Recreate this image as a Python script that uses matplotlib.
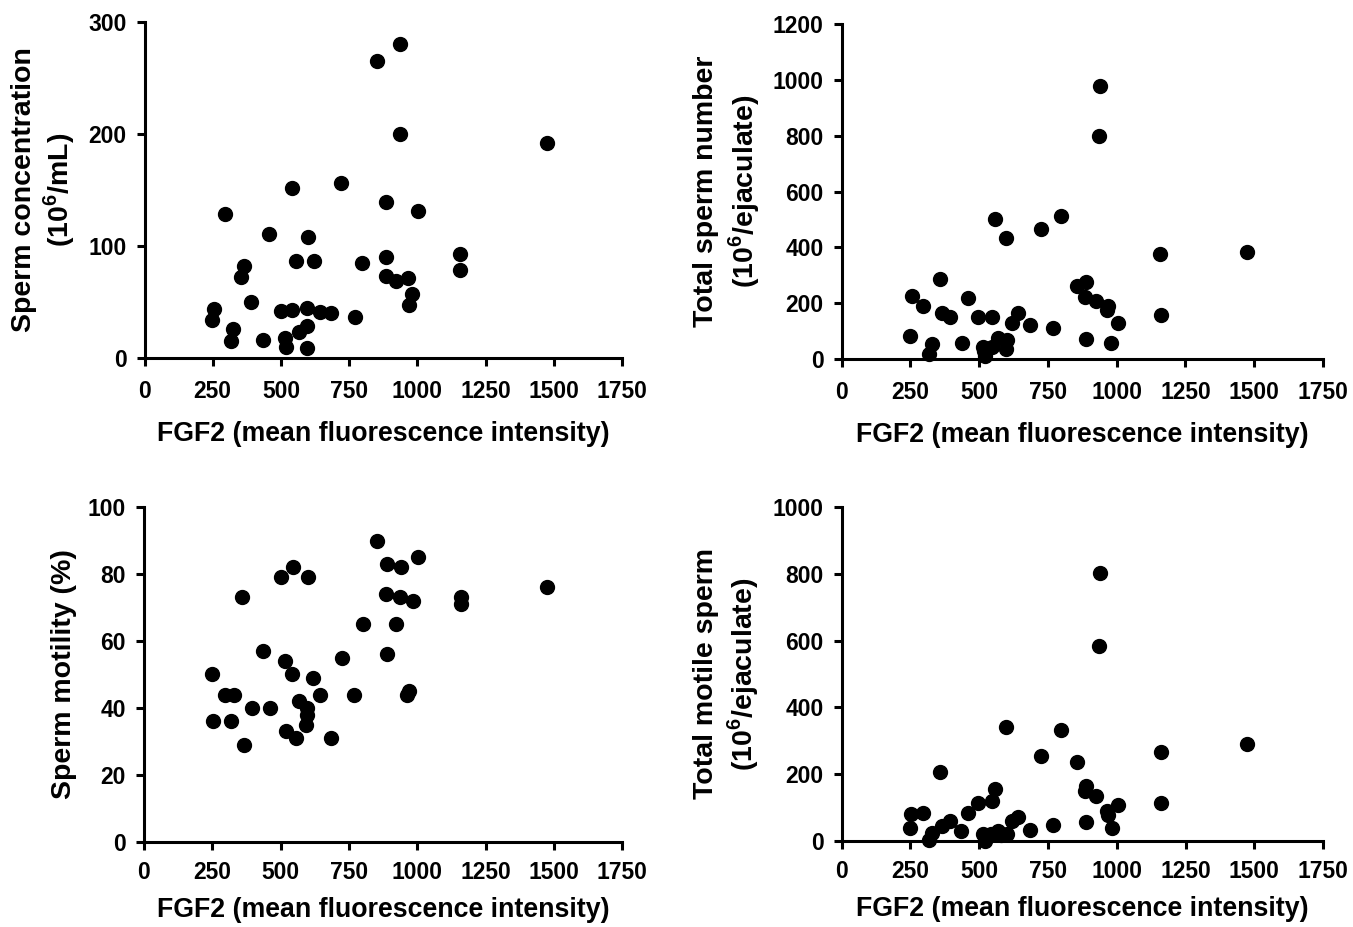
import matplotlib
matplotlib.use('Agg')
import matplotlib.pyplot as plt

plt.rcParams['font.family'] = ['Liberation Sans', 'DejaVu Sans']
plt.rcParams['font.weight'] = 'bold'
plt.rcParams['mathtext.fontset'] = 'custom'
plt.rcParams['mathtext.rm'] = 'Liberation Sans'
plt.rcParams['mathtext.bf'] = 'Liberation Sans:bold'

# panel A: sperm concentration
x_conc = [938, 853, 937, 1475, 541, 722, 294, 886, 1002, 458, 598, 1158, 1158, 365, 354,
          554, 620, 798, 886, 886, 923, 965, 981, 969, 392, 253, 247, 326, 316, 434,
          499, 541, 596, 643, 684, 771, 595, 568, 516, 519, 596]
conc = [280, 265, 200, 192, 152, 156, 129, 139, 131, 111, 108, 93, 79, 82, 72,
        87, 87, 85, 90, 73, 69, 71, 57, 47, 50, 44, 34, 26, 15, 16,
        42, 43, 45, 41, 40, 37, 29, 23, 18, 10, 9]

# panel B: total sperm number
x_total = [939, 936, 557, 799, 724, 597, 1159, 1474, 356, 254, 296, 460, 366, 394, 497,
           545, 642, 620, 684, 769, 854, 888, 886, 923, 969, 965, 1003, 1160, 248, 327,
           318, 436, 515, 545, 567, 600, 596, 521, 888, 981, 519]
total = [979, 798, 502, 514, 466, 434, 375, 382, 287, 226, 191, 220, 164, 152, 149,
         151, 166, 128, 121, 112, 263, 276, 224, 208, 191, 176, 129, 159, 84, 54,
         17, 57, 44, 44, 74, 68, 37, 11, 71, 56, 28]

# panel C: sperm motility
x_motil = [854, 1004, 888, 939, 544, 500, 599, 357, 1473, 885, 937, 983, 1160, 1159, 800,
           922, 434, 723, 888, 516, 248, 543, 620, 296, 329, 644, 770, 971, 963, 566,
           595, 394, 461, 595, 594, 254, 317, 518, 555, 683, 367]
motility = [90, 85, 83, 82, 82, 79, 79, 73, 76, 74, 73, 72, 73, 71, 65,
            65, 57, 55, 56, 54, 50, 50, 49, 44, 44, 44, 44, 45, 44, 42,
            40, 40, 40, 38, 35, 36, 36, 33, 31, 31, 29]

# panel D: total motile sperm
x_tms = [939, 936, 597, 799, 1474, 724, 1159, 855, 356, 888, 886, 923, 1003, 1160, 557,
         545, 497, 460, 254, 296, 248, 394, 366, 434, 620, 642, 684, 769, 888, 969,
         981, 327, 319, 515, 521, 567, 600, 542, 581, 965]
tms = [804, 583, 342, 333, 290, 254, 265, 236, 207, 165, 150, 133, 108, 114, 154,
       120, 114, 84, 80, 82, 38, 59, 45, 30, 59, 70, 33, 47, 56, 78,
       38, 22, 2, 20, 0, 30, 20, 20, 17, 88]

xlabel = 'FGF2 (mean fluorescence intensity)'
x_ticks = [0, 250, 500, 750, 1000, 1250, 1500, 1750]

# rect, x, y, ymax, yticks, ylabel, linespacing, x tick pad, xlabel pad
panels = [
    ([0.1068, 0.6138, 0.3529, 0.3625], x_conc, conc, 300, range(0, 301, 100),
     'Sperm concentration\n(10$^{\\mathbf{6}}$/mL)', 1.15, 10, 13),
    ([0.6221, 0.6127, 0.3557, 0.3612], x_total, total, 1200, range(0, 1201, 200),
     'Total sperm number\n(10$^{\\mathbf{6}}$/ejaculate)', 1.25, 10, 13),
    ([0.1064, 0.0920, 0.3536, 0.3609], x_motil, motility, 100, range(0, 101, 20),
     'Sperm motility (%)', 1.2, 8, 9),
    ([0.6220, 0.0931, 0.3560, 0.3597], x_tms, tms, 1000, range(0, 1001, 200),
     'Total motile sperm\n(10$^{\\mathbf{6}}$/ejaculate)', 1.25, 8, 9),
]

fig = plt.figure(figsize=(13.53, 9.27), dpi=100)

for rect, xs, ys, ymax, yt, ylab, lsp, xpad, lpad in panels:
    ax = fig.add_axes(rect)
    ax.plot(xs, ys, 'o', color='black', ms=10, clip_on=False, zorder=3)
    ax.set_xlim(0, 1750)
    ax.set_ylim(0, ymax)
    yt = list(yt)
    ax.set_xticks(x_ticks, labels=[str(v) for v in x_ticks], fontsize=16.5, fontweight='bold')
    ax.set_yticks(yt, labels=[str(v) for v in yt], fontsize=16.5, fontweight='bold')
    for s in ['top', 'right']:
        ax.spines[s].set_visible(False)
    for s in ['left', 'bottom']:
        ax.spines[s].set_linewidth(2.2)
    ax.tick_params(width=2.2, length=6)
    ax.tick_params(axis='x', pad=xpad)
    ax.tick_params(axis='y', pad=7)
    ax.set_xlabel(xlabel, fontsize=19.3, fontweight='bold', labelpad=lpad)
    ax.set_ylabel(ylab, fontsize=20.5, fontweight='bold', labelpad=8, linespacing=lsp)

fig.savefig('out.png', dpi=100)
